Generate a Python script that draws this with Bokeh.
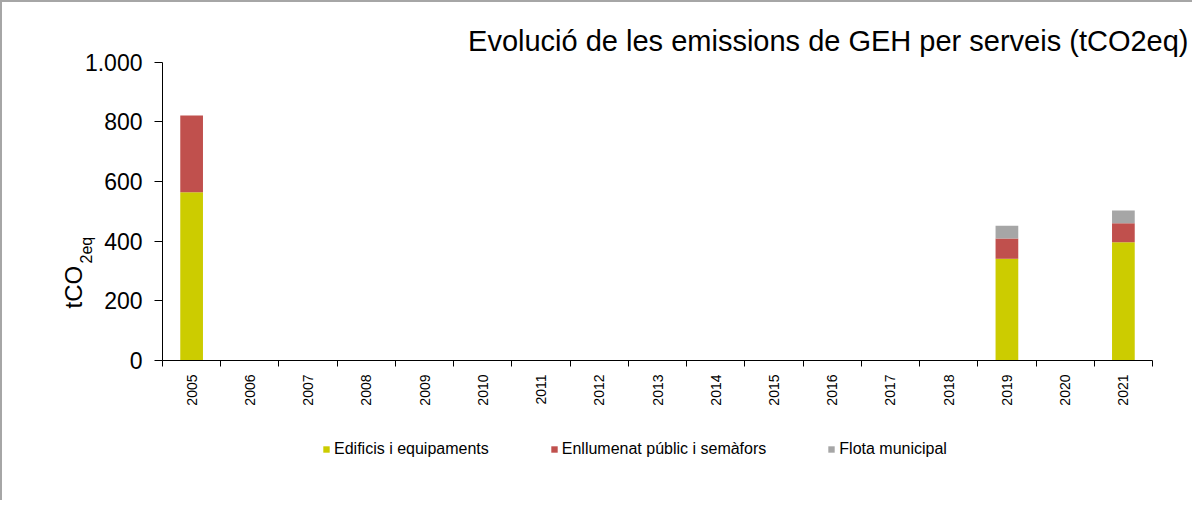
import math
from bokeh.plotting import figure
from bokeh.models import (ColumnDataSource, Range1d, LinearAxis, FixedTicker, Legend, Label)
from bokeh.embed import file_html
from bokeh.resources import INLINE

years = [str(y) for y in range(2005, 2022)]
edificis = [564, 0, 0, 0, 0, 0, 0, 0, 0, 0, 0, 0, 0, 0, 341, 0, 396]
enllumenat = [257, 0, 0, 0, 0, 0, 0, 0, 0, 0, 0, 0, 0, 0, 68, 0, 64]
flota = [0, 0, 0, 0, 0, 0, 0, 0, 0, 0, 0, 0, 0, 0, 43, 0, 43]
series = ["edificis", "enllumenat", "flota"]
labels = ["Edificis i equipaments", "Enllumenat públic i semàfors", "Flota municipal"]
colors = ["#CCCC00", "#C0504D", "#A6A6A6"]
y_ticks = [0, 200, 400, 600, 800, 1000]
y_max = 1000

FONT = "Liberation Sans"

n = len(years)
centers = [i + 0.5 for i in range(n)]
bounds = list(range(n + 1))
src = ColumnDataSource(dict(x=centers, edificis=edificis, enllumenat=enllumenat, flota=flota))

# canvas geometry (pixels): the frame covers the whole canvas, the axes sit at fixed data locations
W, H = 1192, 500
AX_L, AX_R = 160, 1150      # canvas x of x=0 and x=n
AX_B, AX_T = 358, 59.7      # canvas y (from top) of y=0 and y=y_max
xs = n / (AX_R - AX_L)
ys = y_max / (AX_B - AX_T)
x_range = Range1d(-AX_L * xs, n + (W - AX_R) * xs)
y_range = Range1d(-(H - AX_B) * ys, y_max + AX_T * ys)

p = figure(x_range=x_range, y_range=y_range, width=W, height=H,
           output_backend="svg", toolbar_location=None,
           x_axis_location=None, y_axis_location=None,
           min_border_left=0, min_border_right=0, min_border_top=0, min_border_bottom=0)
p.styles = {"border-left": "2px solid #A6A6A6", "border-top": "2px solid #A6A6A6"}
p.outline_line_color = None
p.xgrid.grid_line_color = None
p.ygrid.grid_line_color = None

rs = p.vbar_stack(series, x="x", width=0.39, source=src, color=colors, line_color=None)

# y axis
ya = LinearAxis(ticker=FixedTicker(ticks=y_ticks), fixed_location=0, bounds=(0, y_max))
ya.major_label_overrides = {1000: "1.000"}
ya.minor_tick_line_color = None
ya.major_tick_out = 8
ya.major_tick_in = 0
ya.major_label_text_font = FONT
ya.major_label_text_font_size = "23px"
ya.major_label_text_color = "#000000"
ya.axis_line_color = "#000000"
ya.major_tick_line_color = "#000000"
ya.major_label_standoff = 12
p.add_layout(ya, "left")

# x axis: year labels at centres, ticks at category boundaries
cx = LinearAxis(ticker=FixedTicker(ticks=centers, minor_ticks=bounds), fixed_location=0, bounds=(0, n))
cx.major_label_overrides = {c: y for c, y in zip(centers, years)}
cx.axis_line_color = "#000000"
cx.major_tick_line_color = None
cx.major_tick_out = 0
cx.major_tick_in = 0
cx.minor_tick_line_color = "#000000"
cx.minor_tick_out = 6
cx.minor_tick_in = 0
cx.major_label_standoff = 8
cx.major_label_orientation = math.pi / 2
cx.major_label_text_font = FONT
cx.major_label_text_font_size = "14px"
cx.major_label_text_color = "#000000"
p.add_layout(cx, "below")

# title
p.add_layout(Label(x=1186, y=H - 38, x_units="screen", y_units="screen",
                   text="Evolució de les emissions de GEH per serveis (tCO2eq)",
                   text_align="right", text_baseline="alphabetic", text_font=FONT,
                   text_font_size="29px", text_color="#000000"))

# y axis title with subscript
p.add_layout(Label(x=71, y=H - 306, x_units="screen", y_units="screen", angle=math.pi / 2,
                   text="tCO", text_align="left", text_baseline="alphabetic", text_font=FONT,
                   text_font_size="24px", text_color="#000000"))
p.add_layout(Label(x=84, y=H - 261, x_units="screen", y_units="screen", angle=math.pi / 2,
                   text="2eq", text_align="left", text_baseline="alphabetic", text_font=FONT,
                   text_font_size="16px", text_color="#000000"))

legend = Legend(items=[(lab, [r]) for lab, r in zip(labels, rs)],
                location=(320, 44), orientation="horizontal")
legend.border_line_color = None
legend.background_fill_alpha = 0
legend.padding = 0
legend.margin = 0
legend.spacing = 61
legend.glyph_width = 8
legend.glyph_height = 8
legend.label_standoff = 4
legend.label_height = 16
legend.label_text_font = FONT
legend.label_text_font_size = "16px"
legend.label_text_color = "#000000"
p.add_layout(legend, "center")

open("out.html", "w").write(file_html(p, INLINE))
